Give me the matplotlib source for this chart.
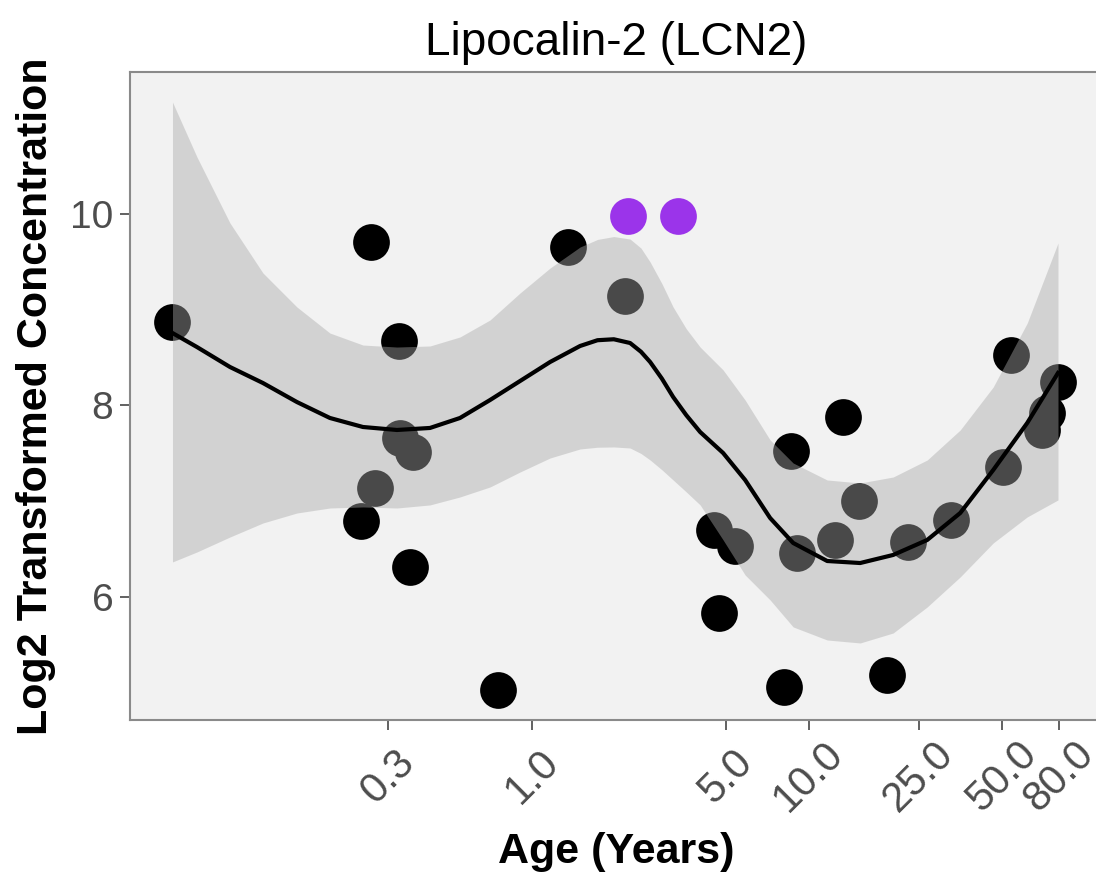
import numpy as np
import matplotlib
matplotlib.use("Agg")
import matplotlib.pyplot as plt

plt.rcParams['font.family'] = ['Liberation Sans', 'DejaVu Sans']

# observed points (age in years, log2 concentration)
age = [0.05, 0.26, 0.33, 0.333, 0.369, 0.27, 0.24, 0.361, 0.753,
       1.34, 2.16, 4.52, 5.41, 4.71, 8.60, 8.14, 9.09,
       13.26, 12.44, 15.23, 19.2, 22.9, 32.6, 50.3, 53.7, 69.6, 72.5, 79.5]
conc = [8.87, 9.70, 8.67, 7.66, 7.52, 7.14, 6.80, 6.32, 5.04,
        9.65, 9.14, 6.70, 6.54, 5.84, 7.53, 5.07, 6.46,
        7.88, 6.60, 7.00, 5.19, 6.58, 6.81, 7.36, 8.53, 7.74, 7.92, 8.24]

# highlighted samples
hl_age = [2.21, 3.35]
hl_conc = [9.97, 9.97]

# smooth fit and its confidence band
fit_age = [0.05, 0.0613, 0.0807, 0.1062, 0.1409, 0.1854, 0.2441, 0.324, 0.4266,
           0.5476, 0.7031, 0.9027, 1.159, 1.488, 1.72, 1.97, 2.256, 2.47,
           2.666, 2.94, 3.228, 3.6, 4.042, 4.895, 5.879, 7.238, 8.768, 11.64,
           15.32, 20.16, 26.76, 35.23, 46.37, 61.54, 79.5]
fit_mid = [8.755, 8.609, 8.401, 8.234, 8.036, 7.870, 7.776, 7.745, 7.766,
           7.870, 8.057, 8.255, 8.453, 8.620, 8.680, 8.690, 8.651, 8.560,
           8.453, 8.280, 8.089, 7.900, 7.724, 7.505, 7.224, 6.828, 6.568,
           6.380, 6.359, 6.443, 6.599, 6.880, 7.328, 7.818, 8.339]
fit_hi = [11.161, 10.589, 9.901, 9.380, 9.026, 8.755, 8.630, 8.609, 8.620,
          8.714, 8.891, 9.172, 9.432, 9.651, 9.730, 9.760, 9.734, 9.640,
          9.495, 9.270, 9.026, 8.800, 8.609, 8.370, 8.057, 7.641, 7.401,
          7.224, 7.193, 7.255, 7.432, 7.745, 8.193, 8.859, 9.693]
fit_lo = [6.370, 6.474, 6.630, 6.776, 6.880, 6.932, 6.943, 6.932, 6.964,
          7.047, 7.151, 7.307, 7.453, 7.547, 7.565, 7.568, 7.557, 7.500,
          7.432, 7.330, 7.224, 7.100, 6.964, 6.599, 6.234, 5.974, 5.693,
          5.557, 5.526, 5.630, 5.901, 6.214, 6.568, 6.839, 7.016]

xticks = [0.3, 1.0, 5.0, 10.0, 25.0, 50.0, 80.0]
xticklabels = ["0.3", "1.0", "5.0", "10.0", "25.0", "50.0", "80.0"]
yticks = [6, 8, 10]

fig = plt.figure(figsize=(10.96, 8.73), dpi=100)
ax = fig.add_axes([0.1186, 0.1753, 0.8869, 0.7422])
ax.set_facecolor("#f2f2f2")

ax.scatter(age, conc, s=700, color="black", linewidths=0, zorder=2)
ax.fill_between(fit_age, fit_lo, fit_hi, color="#aaaaaa", alpha=0.43,
                linewidth=0, zorder=3)
ax.plot(fit_age, fit_mid, color="black", lw=3, zorder=4,
        solid_joinstyle="round")
ax.scatter(hl_age, hl_conc, s=700, color="#9b34ea", linewidths=0, zorder=5)

ax.set_xscale("log")
ax.set_xlim(0.0351, 114.7)
ax.set_ylim(4.724, 11.474)
ax.minorticks_off()
ax.set_xticks(xticks)
ax.set_xticklabels(xticklabels)
ax.set_yticks(yticks)

for sp in ax.spines.values():
    sp.set_color("#8a8a8a")
    sp.set_linewidth(1.5)
ax.tick_params(axis="both", length=7, width=1.3, color="#555555",
               labelcolor="#4d4d4d", labelsize=28)
ax.tick_params(axis="x", pad=34, labelsize=30)
ax.tick_params(axis="y", pad=5)

for lab in ax.get_xticklabels():
    lab.set_rotation(45)
    lab.set_ha("center")
    lab.set_va("center")

ax.set_title("Lipocalin-2 (LCN2)", fontsize=33, pad=12)
ax.set_xlabel("Age (Years)", fontsize=31, fontweight="bold", va="center")
ax.xaxis.set_label_coords(0.5, -0.204)
ax.set_ylabel("Log2 Transformed Concentration", fontsize=31,
              fontweight="bold", labelpad=10)

fig.savefig("out.png", dpi=100)
